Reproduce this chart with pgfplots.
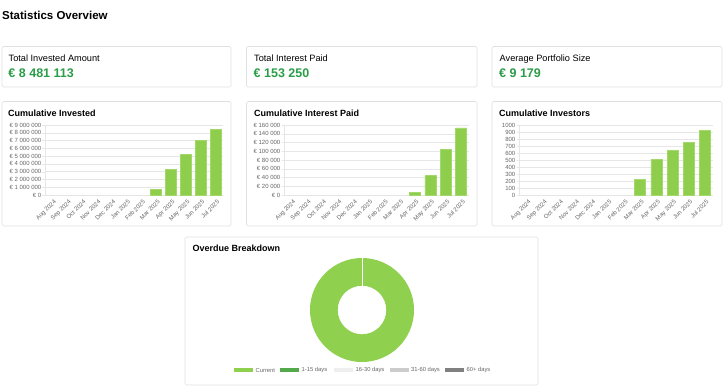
\documentclass[border=0pt]{standalone}
\usepackage{pgfplots}
\pgfplotsset{compat=1.18}
\usepackage{fontspec}
\setmainfont{Liberation Sans}
\definecolor{barfill}{HTML}{8FCE4C}
\definecolor{baredge}{HTML}{A3D96A}
\definecolor{donut}{HTML}{8FD14F}
\definecolor{darkgreen}{HTML}{54A94A}
\definecolor{valgreen}{HTML}{2A9D48}
\definecolor{tickgray}{HTML}{666666}
\definecolor{gridgray}{HTML}{E6E6E6}
\definecolor{cardedge}{HTML}{E0E0E0}
\definecolor{lg1}{HTML}{EEEEEE}
\definecolor{lg2}{HTML}{CCCCCC}
\definecolor{lg3}{HTML}{808080}
\pgfplotsset{
  cumchart/.style={
    scale only axis, height=70pt,
    ybar, bar width=11pt, bar shift=0pt,
    xmin=-0.5, xmax=11.5, ymin=0,
    axis x line*=bottom, axis y line*=left,
    axis line style={draw=gridgray},
    xtick={0,...,11},
    xticklabels={Aug 2024,Sep 2024,Oct 2024,Nov 2024,Dec 2024,Jan 2025,Feb 2025,Mar 2025,Apr 2025,May 2025,Jun 2025,Jul 2025},
    x tick label style={rotate=45, anchor=north east, font=\fontsize{6}{6.5}\selectfont, text=tickgray, inner sep=0.5pt, yshift=-1.5pt},
    y tick label style={font=\fontsize{6}{6.5}\selectfont, text=tickgray, inner sep=1pt},
    scaled y ticks=false,
    /pgf/number format/assume math mode=true,
    /pgf/number format/1000 sep={},
    xtick style={draw=none},
    ytick style={draw=gridgray},
    tick align=outside, major tick length=2.5pt,
    ymajorgrids, grid style={draw=gridgray, line width=0.4pt},
  },
  greenbar/.style={fill=barfill, draw=baredge, line width=0.7pt},
}
\begin{document}
\begin{tikzpicture}[x=1pt,y=1pt]
\useasboundingbox[fill=white] (0,0) rectangle (725,-388);
% title
\node[anchor=base west, inner sep=0, font=\fontsize{11.5}{13}\selectfont\bfseries] at (2,-19.5) {Statistics Overview};
% KPI cards
\foreach \xa/\xb in {2/231, 246.5/477, 492/722}{
  \draw[cardedge, fill=white, line width=0.6pt, rounded corners=1.5pt] (\xa,-46.5) rectangle (\xb,-87);
  \draw[cardedge, fill=white, line width=0.6pt, rounded corners=1.5pt] (\xa,-101.5) rectangle (\xb,-226);
}
\node[anchor=base west, inner sep=0, font=\fontsize{9.2}{11}\selectfont] at (8.5,-61) {Total Invested Amount};
\node[anchor=base west, inner sep=0, font=\fontsize{12.5}{14}\selectfont\bfseries, text=valgreen] at (8.3,-77.3) {€ 8 481 113};
\node[anchor=base west, inner sep=0, font=\fontsize{9.2}{11}\selectfont] at (254,-61) {Total Interest Paid};
\node[anchor=base west, inner sep=0, font=\fontsize{12.5}{14}\selectfont\bfseries, text=valgreen] at (253.5,-77.3) {€ 153 250};
\node[anchor=base west, inner sep=0, font=\fontsize{9.2}{11}\selectfont] at (499.5,-61) {Average Portfolio Size};
\node[anchor=base west, inner sep=0, font=\fontsize{12.5}{14}\selectfont\bfseries, text=valgreen] at (499,-77.3) {€ 9 179};
% chart titles
\node[anchor=base west, inner sep=0, font=\fontsize{9}{11}\selectfont\bfseries] at (8,-116.7) {Cumulative Invested};
\node[anchor=base west, inner sep=0, font=\fontsize{9}{11}\selectfont\bfseries] at (254,-116.7) {Cumulative Interest Paid};
\node[anchor=base west, inner sep=0, font=\fontsize{9}{11}\selectfont\bfseries] at (499,-116.7) {Cumulative Investors};
% chart 1
\begin{axis}[cumchart, at={(45pt,-195pt)}, anchor=south west, width=178pt,
  ymax=9000000, ytick={0,1000000,...,9000000},
  yticklabels={€ 0,€ 1 000 000,€ 2 000 000,€ 3 000 000,€ 4 000 000,€ 5 000 000,€ 6 000 000,€ 7 000 000,€ 8 000 000,€ 9 000 000}]
\addplot[greenbar] coordinates {(7,770000) (8,3340000) (9,5230000) (10,7030000) (11,8481113)};
\end{axis}
% chart 2
\begin{axis}[cumchart, at={(284pt,-195pt)}, anchor=south west, width=185pt,
  ymax=160000, ytick={0,20000,...,160000},
  yticklabels={€ 0,€ 20 000,€ 40 000,€ 60 000,€ 80 000,€ 100 000,€ 120 000,€ 140 000,€ 160 000}]
\addplot[greenbar] coordinates {(8,5300) (9,44200) (10,104500) (11,153250)};
\end{axis}
% chart 3
\begin{axis}[cumchart, at={(519pt,-195pt)}, anchor=south west, width=194pt,
  ymax=1000, ytick={0,100,...,1000}]
\addplot[greenbar] coordinates {(7,224) (8,510) (9,633) (10,752) (11,924)};
\end{axis}
% overdue card
\draw[cardedge, fill=white, line width=0.6pt, rounded corners=1.5pt] (185,-237) rectangle (538,-385);
\node[anchor=base west, inner sep=0, font=\fontsize{9}{11}\selectfont\bfseries] at (192.5,-251.7) {Overdue Breakdown};
% donut: Current 100%, others 0%
\fill[donut, even odd rule] (362,-310) circle[radius=52] (362,-310) circle[radius=24.3];
\draw[white, line width=1pt] (362,-257.5) -- (362,-286);
% legend
\foreach \bx/\col/\lab in {234/donut/Current, 280/darkgreen/1-15 days, 334/lg1/16-30 days, 389.5/lg2/31-60 days, 445/lg3/60+ days}{
  \fill[\col] (\bx,-368.3) rectangle ++(19,-4);
  \node[anchor=west, inner sep=0, font=\fontsize{5.8}{6}\selectfont, text=tickgray] at (\bx+21.5,-370.3) {\lab};
}
\end{tikzpicture}
\end{document}
